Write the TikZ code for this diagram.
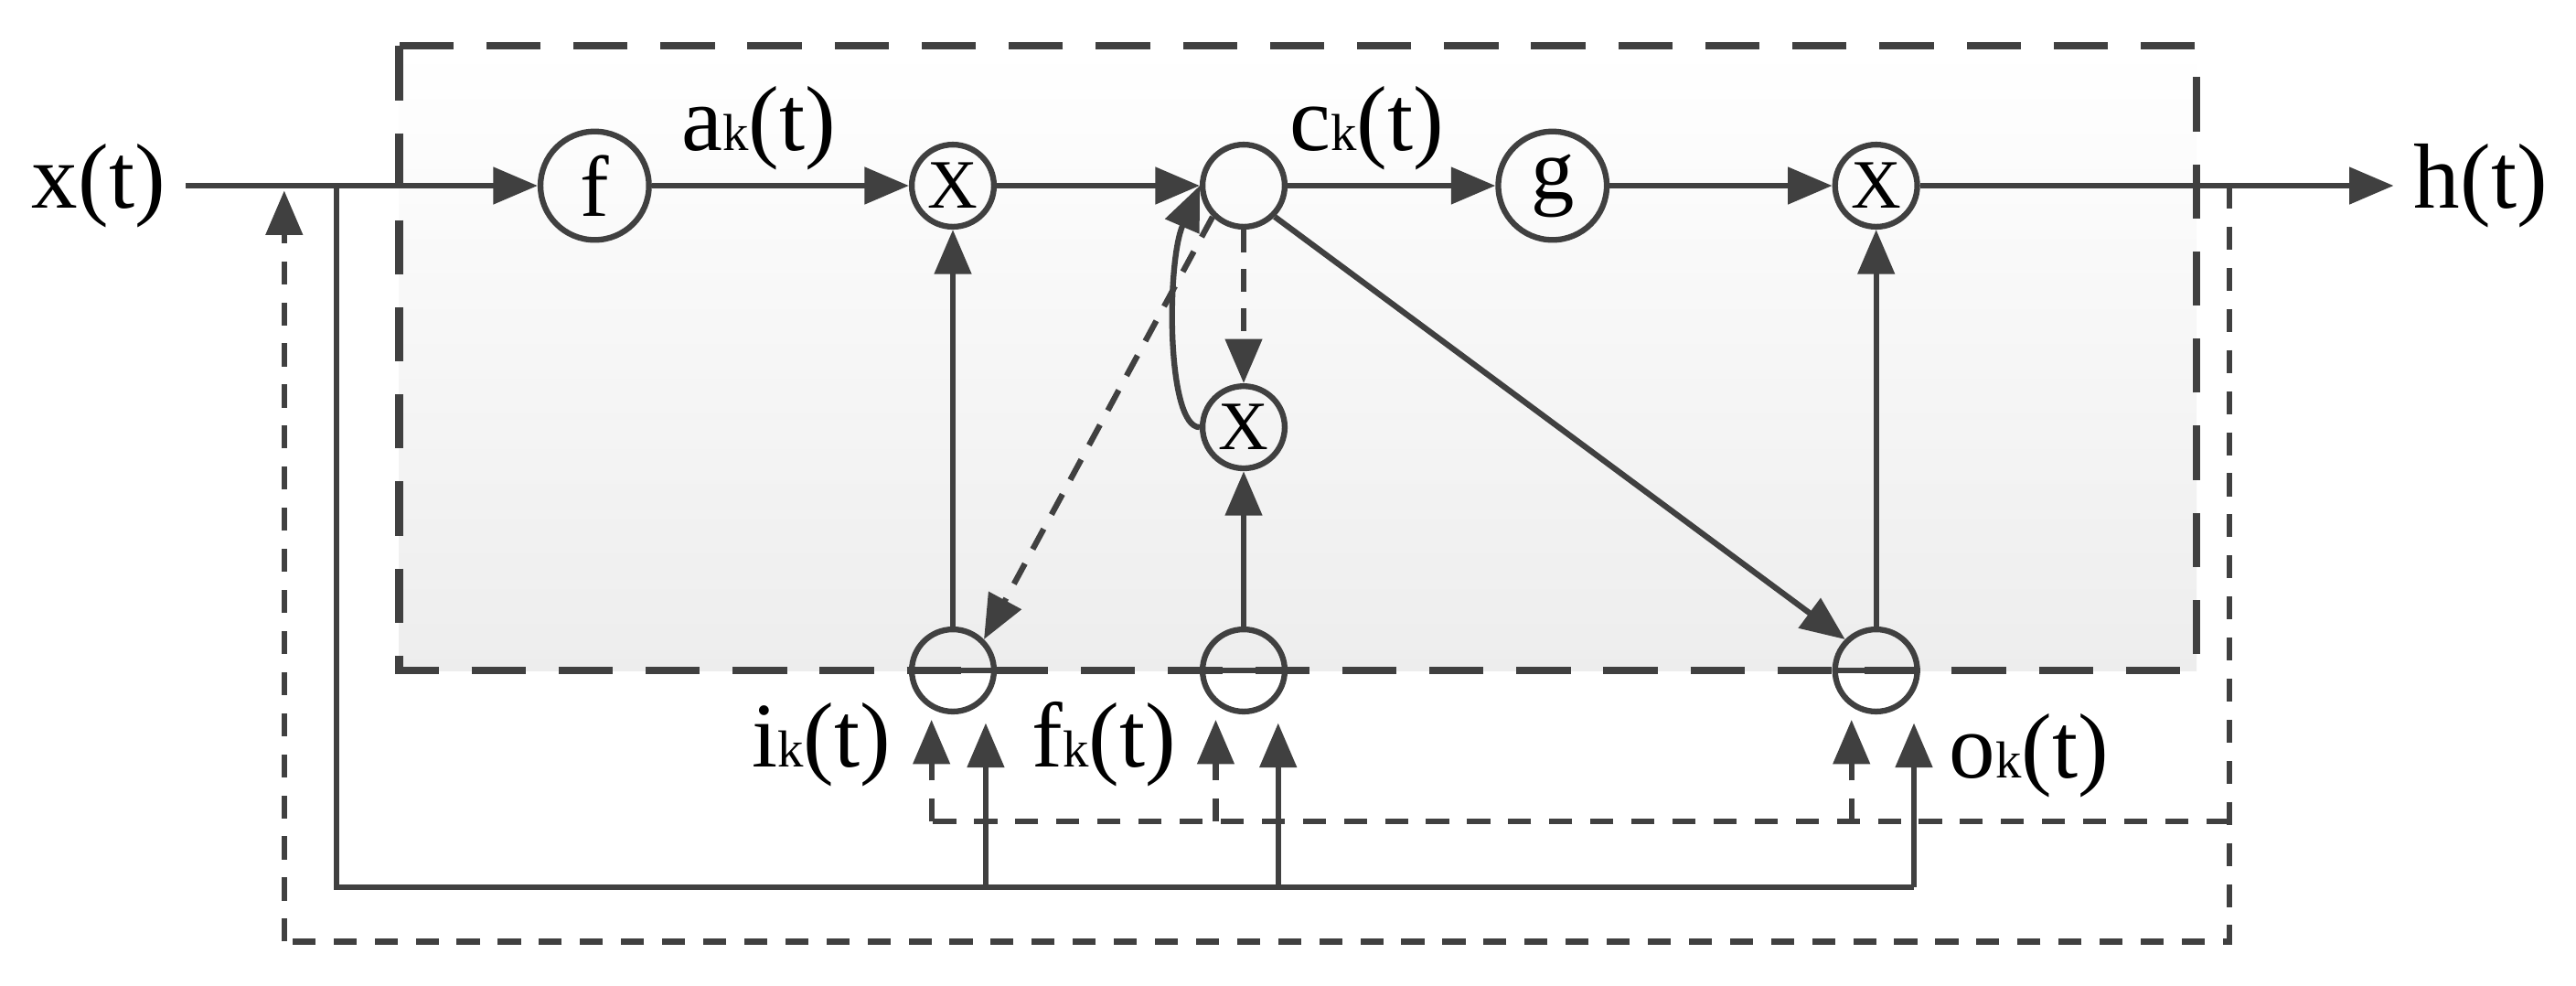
\documentclass[tikz,border=0pt]{standalone}
\usepackage{fontspec}
\setmainfont{Liberation Serif}
\usetikzlibrary{arrows.meta,calc}
\definecolor{ink}{gray}{0.25}
\newcommand{\sub}[1]{{\fontsize{9}{9}\selectfont #1}}
\tikzset{
  gate/.style={draw=ink,line width=1pt,circle,minimum size=0.5cm,inner sep=0pt,font=\fontsize{12}{12}\selectfont},
  big/.style={gate,minimum size=0.66cm,font=\fontsize{15}{15}\selectfont},
  arr/.style={ink,line width=1pt,-{Triangle[length=0.27cm,width=0.22cm]}},
  dasharr/.style={arr,dash pattern=on 0.14cm off 0.1cm},
  fbline/.style={ink,line width=1pt,dash pattern=on 0.14cm off 0.11cm},
  lbl/.style={font=\fontsize{16}{16}\selectfont,text=black}
}
\begin{document}
\begin{tikzpicture}
\useasboundingbox (0,0) rectangle (15.68,-6.0);

% cell box
\shade[top color=white,bottom color=gray!14] (2.43,-0.28) rectangle (13.37,-4.08);
\draw[ink,line width=1.3pt,dash pattern=on 0.33cm off 0.2cm] (2.43,-0.28) rectangle (13.37,-4.08);

% top row
\node[lbl] (xin) at (0.6,-1.13) {x(t)};
\node[big] (f) at (3.62,-1.13) {f};
\node[gate] (mx1) at (5.8,-1.13) {X};
\node[gate] (c) at (7.57,-1.13) {};
\node[big] (g) at (9.45,-1.13) {g};
\node[gate] (mx3) at (11.42,-1.13) {X};
\node[lbl] (hout) at (15.1,-1.13) {h(t)};
\node[gate] (mx2) at (7.57,-2.60) {X};

% gates
\node[gate] (gi) at (5.8,-4.08) {};
\node[gate] (gf) at (7.57,-4.08) {};
\node[gate] (go) at (11.42,-4.08) {};
\foreach \n in {gi,gf,go}
  \draw[ink,line width=1pt] (\n.west) -- (\n.east);

\node[lbl] at (4.62,-0.78) {a\sub{k}(t)};
\node[lbl] at (8.32,-0.78) {c\sub{k}(t)};
\node[lbl] at (5.0,-4.53) {i\sub{k}(t)};
\node[lbl] at (6.72,-4.53) {f\sub{k}(t)};
\node[lbl] at (12.35,-4.6) {o\sub{k}(t)};

% main flow
\draw[arr] (xin) -- (f);
\draw[arr] (f) -- (mx1);
\draw[arr] (mx1) -- (c.west);
\draw[arr] (mx2.west) .. controls (7.1,-2.6) and (7.1,-1.6) .. (c.west);
\draw[arr] (c) -- (g);
\draw[arr] (g) -- (mx3);
\draw[arr] (mx3) -- (hout);
\draw[arr] (gi) -- (mx1);
\draw[arr] (gf) -- (mx2);
\draw[arr] (go) -- (mx3);
\draw[dasharr] (c) -- (mx2);
\draw[dasharr] (c.south west) -- (gi.north east);
\draw[arr] (c.south east) -- (go.north west);

% input bus
\coordinate (j1) at (2.05,-1.13);
\coordinate (bi) at (6.0,-5.40);
\coordinate (bf) at (7.78,-5.40);
\coordinate (bo) at (11.65,-5.40);
\draw[ink,line width=1pt] (j1) |- (bo);
\foreach \b in {bi,bf,bo}
  \draw[arr] (\b) -- ++(0,1.0);

% feedback of h(t)
\coordinate (fb) at (13.57,-1.13);
\coordinate (fl) at (1.73,-5.73);
\coordinate (fj) at (1.73,-1.16);
\draw[fbline] (fb) |- (fl);
\draw[fbline,-{Triangle[length=0.27cm,width=0.22cm]}] (fl) -- (fj);
\coordinate (pe) at (13.57,-5.0);
\coordinate (pi) at (5.67,-5.0);
\draw[fbline] (pe) -- (pi);
\foreach \x in {5.67,7.40,11.27}
  \draw[fbline,-{Triangle[length=0.27cm,width=0.22cm]}] (\x,-5.0) -- (\x,-4.38);
\end{tikzpicture}
\end{document}
